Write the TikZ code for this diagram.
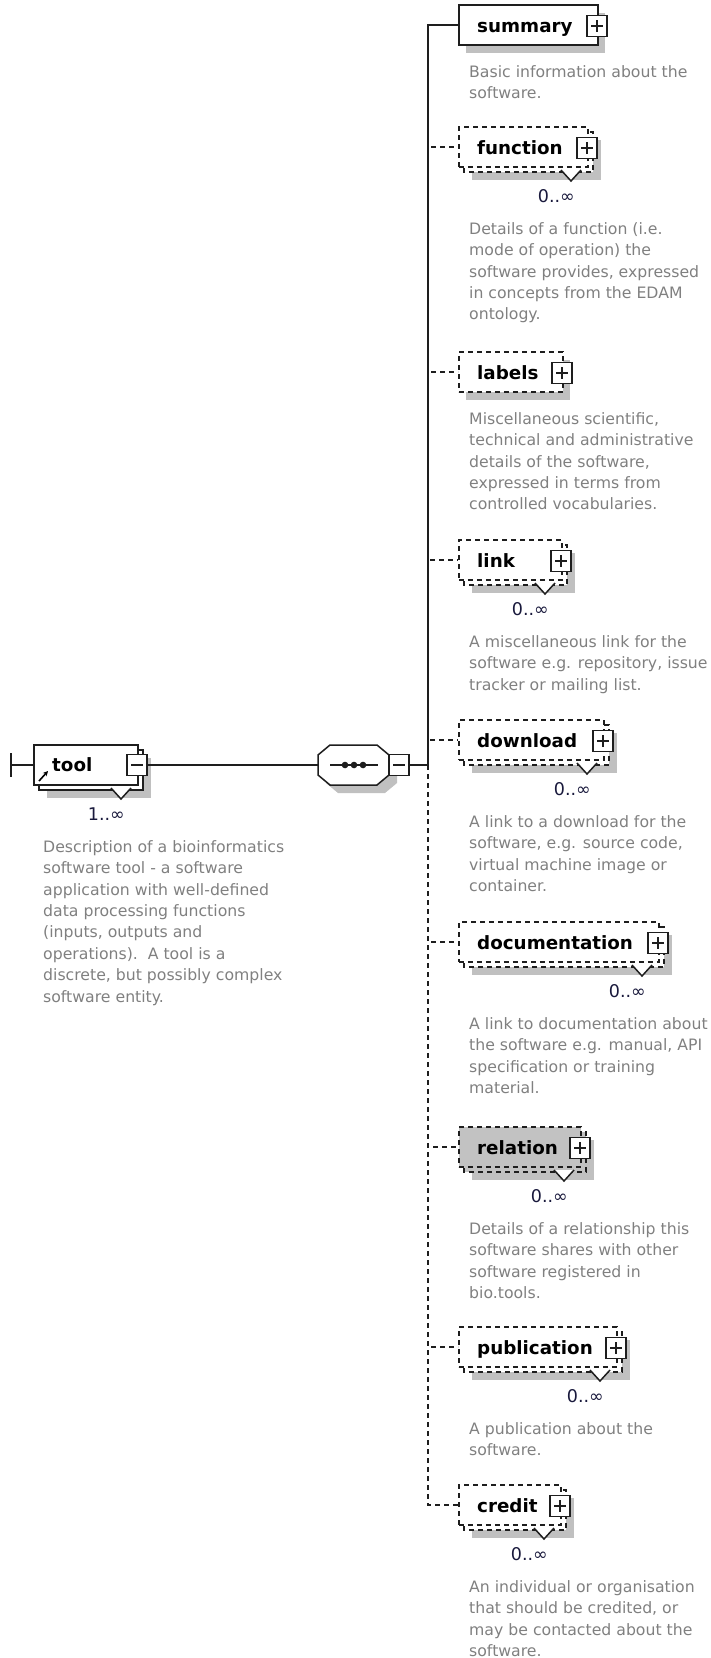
\documentclass[tikz,border=0pt]{standalone}
\usepackage{fontspec}
\setmainfont{DejaVu Sans}
\usetikzlibrary{arrows.meta}

\definecolor{descgray}{RGB}{128,128,128}
\definecolor{occblue}{RGB}{25,25,60}
\definecolor{shade}{RGB}{192,192,192}
\definecolor{linecol}{RGB}{30,30,30}
\definecolor{refgray}{RGB}{194,194,194}

\tikzset{
  wire/.style={draw=linecol, line width=1.5pt},
  optwire/.style={wire, dash pattern=on 5pt off 4pt},
  optional/.style={dash pattern=on 5pt off 4pt},
  elbox/.style={draw=linecol, line width=1.5pt, fill=white, inner sep=0pt, minimum height=40pt},
  shadowfill/.style={fill=shade},
  notch/.style={draw=linecol, line width=1.5pt, fill=white},
  expander/.style={draw=linecol, line width=1.5pt, fill=white, minimum width=20pt, minimum height=21pt, inner sep=0pt},
  elname/.style={font=\fontsize{18.3}{22}\selectfont\bfseries, inner sep=0pt, anchor=base west},
  occur/.style={font=\fontsize{17.5}{20}\selectfont, text=occblue, inner sep=0pt, anchor=base east},
  desc/.style={font=\fontsize{15.7}{21.4}\selectfont, text=descgray, align=left, inner sep=0pt, anchor=north west},
}

% plus sign inside an expander box
\newcommand\plussign[1]{%
  \draw[wire] (#1.center) ++(-6,0) -- ++(12,0);
  \draw[wire] (#1.center) ++(0,-6) -- ++(0,12);}
\newcommand\minussign[1]{%
  \draw[wire] (#1.center) ++(-6,0) -- ++(12,0);}

% child element shown once: #1 name, #2 label, #3 right edge, #4 centre y, #5 box style, #6 text
\newcommand\singleel[6]{%
  \fill[shadowfill] (466,{#4-12}) rectangle ({#3+8},{#4+28});
  \node[elbox,#5,anchor=west,minimum width={#3pt-458pt}] (#1) at (458,#4) {};
  \node[expander] (#1-x) at (#3,{#4+1}) {};
  \plussign{#1-x}
  \node[elname] (#1-name) at (477,{#4+7.5}) {#2};
  \node[desc] (#1-doc) at (469,{#4+52-15}) {\rule{0pt}{15pt}#6};}

% child element that may repeat: stacked boxes, notch and 0..inf
\newcommand\repeatel[6]{%
  \fill[shadowfill] (472,{#4-7}) rectangle ({#3+14},{#4+33});
  \draw[elbox,#5] (464,{#4-15}) rectangle ({#3+6},{#4+25});
  \node[elbox,#5,anchor=west,minimum width={#3pt-458pt}] (#1) at (458,#4) {};
  \draw[notch] ({#3-26},{#4+23}) -- ({#3-16},{#4+34}) -- ({#3-6},{#4+23});
  \node[expander] (#1-x) at (#3,{#4+1}) {};
  \plussign{#1-x}
  \node[elname] (#1-name) at (477,{#4+7.5}) {#2};
  \node[occur] (#1-occ) at ({#3-12},{#4+55}) {0..∞};
  \node[desc] (#1-doc) at (469,{#4+87-15}) {\rule{0pt}{15pt}#6};}

\begin{document}
\begin{tikzpicture}[x=1pt, y=-1pt]
\useasboundingbox (0,0) rectangle (710,1658);

% ---- root element: tool ----
\fill[shadowfill] (47,758) rectangle (151,798);
\draw[elbox] (39,750) rectangle (143,790);
\node[elbox,anchor=west,minimum width=104pt,minimum height=40pt] (tool) at (33,765) {};
\draw[notch] (111,788) -- (121,799) -- (131,788);
\node[expander] (toolx) at (137,765) {};
\minussign{toolx}
\node[elname] (tool-name) at (52,771) {tool};
\node[occur] (tool-occ) at (125,820) {1..∞};
\draw[line width=1.6pt, -{Stealth[length=5pt,width=5pt]}] (39,781) -- (48,771);
\node[desc] (tool-doc) at (43,837) {\rule{0pt}{15pt}Description of a bioinformatics\\
software tool - a software\\
application with well-defined\\
data processing functions\\
(inputs, outputs and\\
operations).\ \ A tool is a\\
discrete, but possibly complex\\
software entity.};

\coordinate (start) at (11,765);
\draw[wire] (11,753) -- (11,777);
\draw[wire] (start) -- (tool.west);

% ---- sequence compositor ----
\fill[shadowfill] (338,753) -- (385,753) -- (397,763) -- (397,783) -- (385,793) -- (338,793) -- (326,783) -- (326,763) -- cycle;
\draw[wire, fill=white] (330,745) -- (377,745) -- (389,755) -- (389,775) -- (377,785) -- (330,785) -- (318,775) -- (318,755) -- cycle;
\node[inner sep=0pt, minimum width=71pt, minimum height=40pt] (seq) at (353.5,765) {};
\draw[wire] (330,765) -- (378,765);
\fill[linecol] (345,765) circle (3.3) (354,765) circle (3.3) (363,765) circle (3.3);
\node[expander] (seqx) at (399,765) {};
\minussign{seqx}
\coordinate (bus) at (428,765);

\draw[wire] (toolx.east) -- (seq.west);
\draw[wire] (seqx.east) -- (bus);

% ---- children ----
\singleel{summary}{summary}{597}{25}{}{Basic information about the\\software.}
\repeatel{function}{function}{587}{147}{optional}{Details of a function (i.e.\\
mode of operation) the\\
software provides, expressed\\
in concepts from the EDAM\\
ontology.}
\singleel{labels}{labels}{562}{372}{optional}{Miscellaneous scientific,\\
technical and administrative\\
details of the software,\\
expressed in terms from\\
controlled vocabularies.}
\repeatel{link}{link}{561}{560}{optional}{A miscellaneous link for the\\
software e.g. repository, issue\\
tracker or mailing list.}
\repeatel{download}{download}{603}{740}{optional}{A link to a download for the\\
software, e.g. source code,\\
virtual machine image or\\
container.}
\repeatel{documentation}{documentation}{658}{942}{optional}{A link to documentation about\\
the software e.g. manual, API\\
specification or training\\
material.}
\repeatel{relation}{relation}{580}{1147}{optional,fill=refgray}{Details of a relationship this\\
software shares with other\\
software registered in\\
bio.tools.}
\repeatel{publication}{publication}{616}{1347}{optional}{A publication about the\\
software.}
\repeatel{credit}{credit}{560}{1505}{optional}{An individual or organisation\\
that should be credited, or\\
may be contacted about the\\
software.}

% ---- connectors from the sequence bus ----
\draw[wire] (bus) |- (summary.west);
\foreach \c in {function,labels,link,download,documentation,relation,publication,credit}
  \draw[optwire] (bus) |- (\c.west);
\end{tikzpicture}
\end{document}
